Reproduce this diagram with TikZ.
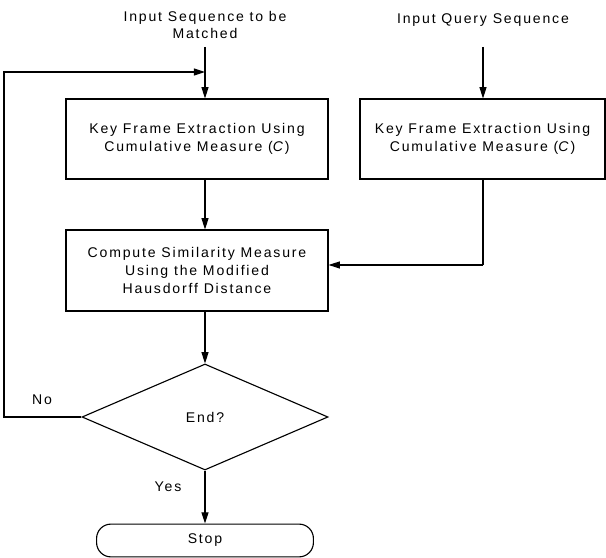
\documentclass[tikz,border=0pt]{standalone}
\usepackage{fontspec}
\setmainfont[LetterSpace=13]{Liberation Sans}
\usepackage{tikz}
\usetikzlibrary{arrows.meta,shapes.geometric}

\begin{document}
\begin{tikzpicture}[x=0.025cm, y=0.025cm, font=\fontsize{10}{12.5}\selectfont,
			proc/.style = {draw, line width=0.8pt, align=center, minimum height=2cm, inner sep=0pt},
			dec/.style = {draw, line width=0.8pt, diamond, minimum width=6.15cm, minimum height=2.65cm, inner sep=0pt},
			term/.style = {draw, line width=0.8pt, rounded corners=0.36cm, minimum width=5.42cm, minimum height=0.82cm},
			flow/.style = {line width=0.8pt, -{Triangle[length=8pt, width=5pt]}}]
			\useasboundingbox (0,0) rectangle (606,558);
			\node (in1) at (205,533) [align=center] {Input Sequence to be\\Matched};
			\node (in2) at (483,538) {Input Query Sequence};
			\node (kfe1) at (197,419) [proc, minimum width=6.55cm] {Key Frame Extraction Using\\Cumulative Measure (\textit{C})};
			\node (kfe2) at (482.5,419) [proc, minimum width=6.125cm] {Key Frame Extraction Using\\Cumulative Measure (\textit{C})};
			\node (sim) at (197,287.5) [proc, minimum width=6.55cm, minimum height=2.025cm] {Compute Similarity Measure\\Using the Modified\\Hausdorff Distance};
			\node (endq) at (205,141) [dec] {End?};
			\node (stop) at (205,17.5) [term] {Stop};
			\node (no) at (42,158) {No};
			\node (yes) at (168,71) {Yes};
			\coordinate (s1) at (205,511);
			\coordinate (s2) at (483,511);
			\coordinate (join) at (205,486);
			\coordinate (lb) at (4,141);
			\coordinate (lt) at (4,486);
			\coordinate (q) at (483,293);
			\draw[line width=0.8pt] (s1) -- (join);
			\draw[flow] (join) -- (kfe1.north -| join);
			\draw[flow] (s2) -- (kfe2.north -| s2);
			\draw[flow] (kfe1.south -| join) -- (sim.north -| join);
			\draw[line width=0.8pt] (kfe2.south -| q) -- (q);
			\draw[flow] (q) -- (sim.east |- q);
			\draw[flow] (sim.south -| endq) -- (endq.north);
			\draw[flow] (endq.south) -- (stop.north);
			\draw[flow] (endq.west) -- (lb) -- (lt) -- (join);
			\end{tikzpicture}
\end{document}
